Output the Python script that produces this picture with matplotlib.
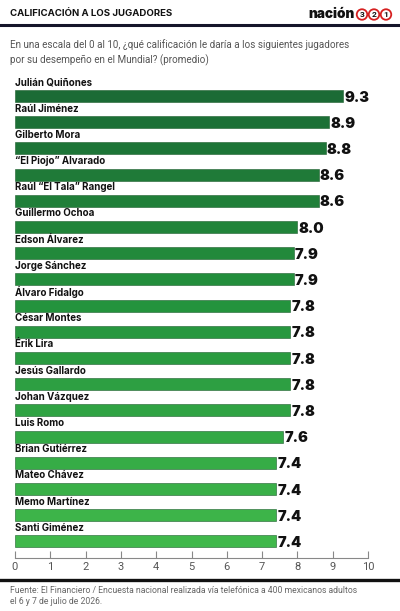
import matplotlib.pyplot as plt
import matplotlib.patches as mpatches
import numpy as np
from matplotlib.colors import LinearSegmentedColormap

players = ["Julián Quiñones", "Raúl Jiménez", "Gilberto Mora", "“El Piojo” Alvarado",
           "Raúl “El Tala” Rangel", "Guillermo Ochoa", "Edson Álvarez", "Jorge Sánchez",
           "Álvaro Fidalgo", "César Montes", "Érik Lira", "Jesús Gallardo",
           "Johan Vázquez", "Luis Romo", "Brian Gutiérrez", "Mateo Chávez",
           "Memo Martínez", "Santi Giménez"]
scores = [9.3, 8.9, 8.8, 8.6, 8.6, 8.0, 7.9, 7.9, 7.8, 7.8, 7.8, 7.8, 7.8, 7.6, 7.4, 7.4, 7.4, 7.4]
ticks = [0, 1, 2, 3, 4, 5, 6, 7, 8, 9, 10]

title = "CALIFICACIÓN A LOS JUGADORES"
subtitle = "En una escala del 0 al 10, ¿qué calificación le daría a los siguientes jugadores\npor su desempeño en el Mundial? (promedio)"
source = "Fuente: El Financiero / Encuesta nacional realizada vía telefónica a 400 mexicanos adultos\nel 6 y 7 de julio de 2026."

plt.rcParams['font.family'] = ['Roboto', 'DejaVu Sans']

W, H = 400, 611
fig = plt.figure(figsize=(W / 100, H / 100), dpi=100)

def fy(px):
    return 1 - px / H

def fx(px):
    return px / W

# axes
ax_top, ax_bot = 75, 558
ax = fig.add_axes([fx(15), fy(ax_bot), fx(353), (ax_bot - ax_top) / H])
step = 26.2
ax.set_ylim((ax_bot - 96) / step, (ax_top - 96) / step)
ax.set_xlim(0, 10)

cmap = LinearSegmentedColormap.from_list("g", ["#1b6b35", "#25953e", "#40b84b"])
n = len(scores)
ys = np.arange(n)
colors = [cmap(i / (n - 1)) for i in range(n)]
ax.barh(ys, scores, height=0.46, color=colors, edgecolor="#1d5e2e", linewidth=0.4, align="center")

for y, name, v in zip(ys, players, scores):
    ax.text(0, y - 0.52, name, ha="left", va="center", fontsize=7.0,
            fontweight="bold", color="#111111", family=["Inter", "DejaVu Sans"])
    ax.text(v + 0.03, y + 0.06, f"{v:.1f}", ha="left", va="center", fontsize=10.5,
            fontweight="black", color="#111111", family=["Inter", "DejaVu Sans"])

for s in ["top", "right", "left"]:
    ax.spines[s].set_visible(False)
ax.spines["bottom"].set_color("#888888")
ax.spines["bottom"].set_linewidth(0.8)
ax.set_yticks([])
ax.set_xticks(ticks)
ax.set_xticklabels([str(t) for t in ticks])
ax.tick_params(axis="x", direction="in", length=5, width=0.8, color="#888888",
               labelsize=8, labelcolor="#555555", pad=3)

# header
fig.text(fx(10), fy(14), title, ha="left", va="center", fontsize=6.9, fontweight="bold",
         color="#111111", family=["Inter", "DejaVu Sans"])
fig.add_artist(plt.Line2D([0, 1], [fy(24.5), fy(24.5)], color="#15152a", linewidth=2.2))
fig.text(fx(10), fy(52.5), subtitle, ha="left", va="center", fontsize=7.1, color="#555555", linespacing=1.6)

# logo
fig.text(fx(355), fy(13.5), "nación", ha="right", va="center", fontsize=9.8, fontweight="black",
         color="#111111", family=["Inter", "DejaVu Sans"])
for i, d in enumerate(["3", "2", "1"]):
    cx = 362 + i * 12
    circ = mpatches.Ellipse((fx(cx), fy(14.5)), width=10.5 / W, height=10.5 / H, transform=fig.transFigure,
                            facecolor="white", edgecolor="#d62020", linewidth=1.3)
    fig.add_artist(circ)
    fig.text(fx(cx), fy(14.5), d, ha="center", va="center", fontsize=6, fontweight="bold", color="#111111")

# footer
fig.add_artist(plt.Line2D([0, 1], [fy(580), fy(580)], color="#111111", linewidth=2.4))
fig.text(fx(10), fy(596), source, ha="left", va="center", fontsize=6.2, color="#666666", linespacing=1.4)

fig.savefig("out.png", dpi=100, facecolor="white")
